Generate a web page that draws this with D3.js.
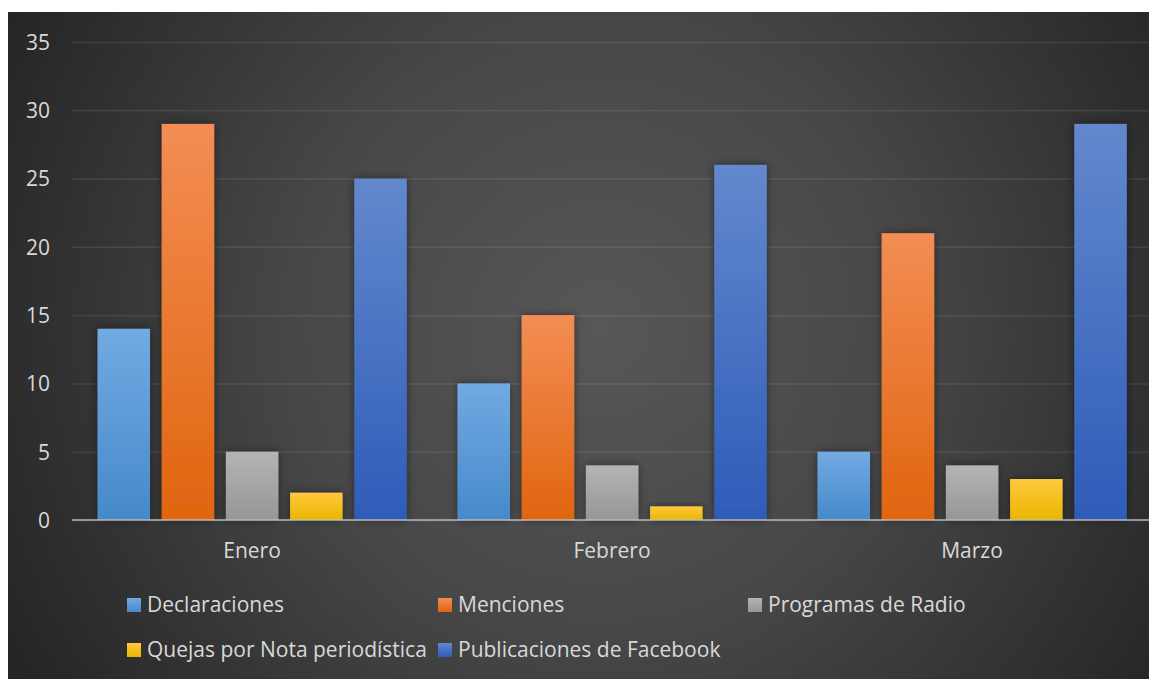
<!DOCTYPE html>
<html><head><meta charset="utf-8">
<script src="https://cdn.jsdelivr.net/npm/d3@7"></script>
<style>html,body{margin:0;padding:0;background:#fff;}svg{display:block;}</style>
</head><body>
<script>
const categories = ["Enero", "Febrero", "Marzo"];
const seriesNames = ["Declaraciones", "Menciones", "Programas de Radio", "Quejas por Nota periodística", "Publicaciones de Facebook"];
const declaraciones = [14, 10, 5];
const menciones = [29, 15, 21];
const programasRadio = [5, 4, 4];
const quejas = [2, 1, 3];
const facebook = [25, 26, 29];
const yTicks = [0, 5, 10, 15, 20, 25, 30, 35];
const seriesValues = [declaraciones, menciones, programasRadio, quejas, facebook];
const colorsTop = ["#72aae2", "#f38d54", "#b4b4b4", "#ffc83e", "#6388cd"];
const colorsBottom = ["#4689ca", "#e0650f", "#969696", "#eab600", "#2e5cb8"];

const W = 1149, H = 679;
const svg = d3.select("body").append("svg").attr("width", W).attr("height", H);
const defs = svg.append("defs");

const bg = defs.append("radialGradient").attr("id", "bg").attr("gradientUnits", "userSpaceOnUse")
  .attr("cx", 600).attr("cy", 330).attr("r", 680);
bg.append("stop").attr("offset", "0").attr("stop-color", "#575757");
bg.append("stop").attr("offset", "0.45").attr("stop-color", "#474747");
bg.append("stop").attr("offset", "1").attr("stop-color", "#242424");

seriesNames.forEach((s, i) => {
  const g = defs.append("linearGradient").attr("id", "g" + i).attr("x1", 0).attr("y1", 0).attr("x2", 0).attr("y2", 1);
  g.append("stop").attr("offset", "0").attr("stop-color", colorsTop[i]);
  g.append("stop").attr("offset", "1").attr("stop-color", colorsBottom[i]);
});
const f = defs.append("filter").attr("id", "sh").attr("x", "-30%").attr("y", "-30%").attr("width", "160%").attr("height", "160%");
f.append("feDropShadow").attr("dx", 0).attr("dy", 0).attr("stdDeviation", 4).attr("flood-color", "#000").attr("flood-opacity", 0.45);

svg.append("rect").attr("x", 8).attr("y", 12).attr("width", W - 8).attr("height", H - 12).attr("fill", "url(#bg)");

const font = "'Open Sans', 'Noto Sans', sans-serif";
const y = d3.scaleLinear().domain([0, 35]).range([520, 42]);
const x0 = d3.scaleBand().domain(categories).range([72, 1152]).paddingInner(0).paddingOuter(0);
const x1 = d3.scaleBand().domain(seriesNames).range([25.5, 334.8]).paddingInner(0.182).paddingOuter(0);

// gridlines
const yAxis = d3.axisLeft(y).tickValues(yTicks).tickSize(-(1152 - 72)).tickFormat(d => d).tickPadding(22);
const ga = svg.append("g").attr("transform", "translate(72,0)").call(yAxis);
ga.select(".domain").remove();
ga.selectAll(".tick line").attr("stroke", "#ffffff").attr("stroke-opacity", 0.09).attr("stroke-width", 1.5);
ga.selectAll(".tick text").attr("fill", "#d9d9d9").attr("font-family", font).attr("font-size", 21).attr("dy", "0.35em");

// bars
const groups = svg.append("g").selectAll("g").data(categories).join("g")
  .attr("transform", d => `translate(${x0(d)},0)`);
groups.selectAll("rect").data((c, ci) => seriesNames.map((s, si) => ({s, si, v: seriesValues[si][ci]})))
  .join("rect")
  .attr("x", d => x1(d.s)).attr("width", x1.bandwidth())
  .attr("y", d => y(d.v)).attr("height", d => y(0) - y(d.v))
  .attr("fill", d => `url(#g${d.si})`).attr("filter", "url(#sh)");

// zero line
svg.append("line").attr("x1", 72).attr("x2", W).attr("y1", y(0)).attr("y2", y(0))
  .attr("stroke", "#bdbdbd").attr("stroke-opacity", 0.7).attr("stroke-width", 2);

// category axis labels
const xAxis = d3.axisBottom(x0).tickSize(0).tickPadding(23);
const gx = svg.append("g").attr("transform", `translate(0,${y(0)})`).call(xAxis);
gx.select(".domain").remove();
gx.selectAll(".tick text").attr("fill", "#d9d9d9").attr("font-family", font).attr("font-size", 21);

// legend
const legendPos = [[127, 598], [438, 598], [748, 598], [127, 643], [438, 643]];
const lg = svg.append("g").selectAll("g").data(seriesNames).join("g")
  .attr("transform", (d, i) => `translate(${legendPos[i][0]},${legendPos[i][1]})`);
lg.append("rect").attr("width", 14).attr("height", 14).attr("fill", (d, i) => `url(#g${i})`);
lg.append("text").attr("x", 20).attr("y", 7).attr("dy", "0.33em").text(d => d)
  .attr("fill", "#d9d9d9").attr("font-family", font).attr("font-size", 21);
</script>
</body></html>
